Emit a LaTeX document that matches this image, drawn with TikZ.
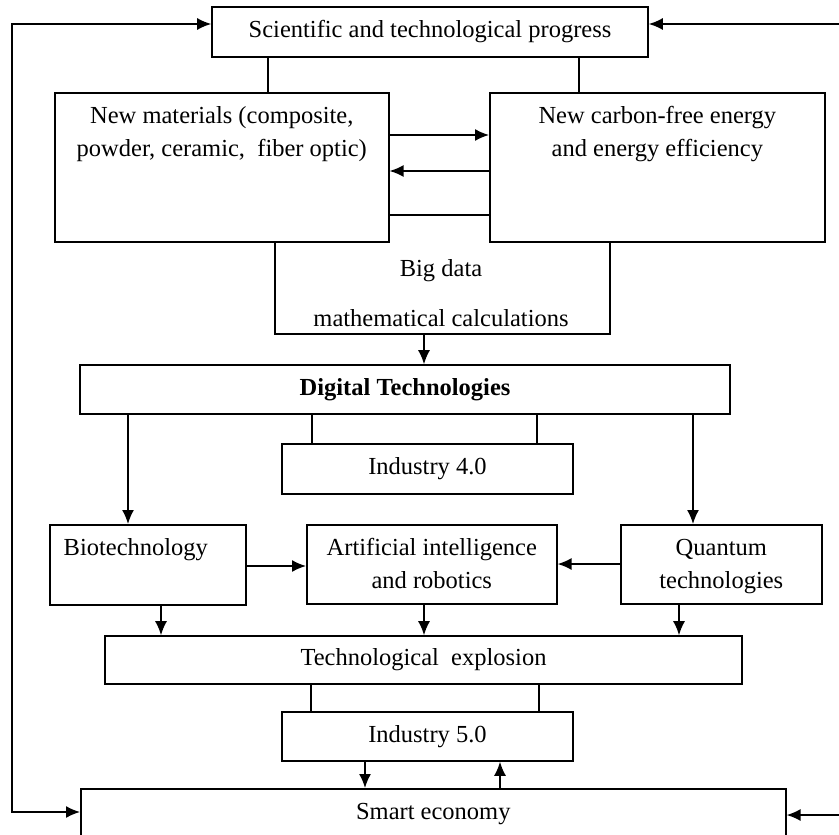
\documentclass[tikz,border=0pt]{standalone}
\usepackage{fontspec}
\setmainfont{Liberation Serif}
\usetikzlibrary{arrows.meta}

\newcommand{\boxtext}[3]{\parbox[c][#1][t]{#2}{\centering\rule{0pt}{15.5pt}#3\par}}

\tikzset{
  box/.style={draw, inner sep=0pt, font=\fontsize{12.25}{16.5}\selectfont},
  lbl/.style={inner sep=0pt, font=\fontsize{12.25}{16.5}\selectfont},
}

\begin{document}
\begin{tikzpicture}[x=0.5pt, y=-0.5pt, line width=0.8pt, >={Latex[length=7pt,width=6pt]}]
  \useasboundingbox (0,0) rectangle (839,834);

  \node[box, minimum width=218pt, minimum height=25pt] (sci) at (430,32) {Scientific and technological progress};
  \node[box, anchor=north west, minimum width=167pt, minimum height=74.5pt] (mat) at (54,92)
       {\boxtext{74.5pt}{160pt}{New materials (composite,\\ powder, ceramic, \ fiber optic)}};
  \node[box, anchor=north west, minimum width=167.5pt, minimum height=74.5pt] (ene) at (489,92)
       {\boxtext{74.5pt}{160pt}{New carbon-free energy\\ and energy efficiency}};
  \node[lbl] (bigdata) at (441,271) {Big data};
  \node[lbl] (calc)    at (441,318) {mathematical calculations};
  \node[box, minimum width=325pt, minimum height=24.5pt] (dig) at (405,389.5) {\textbf{Digital Technologies}};
  \node[box, minimum width=145.5pt, minimum height=25pt] (ind4) at (427.5,469) {Industry 4.0};
  \node[box, anchor=north west, minimum width=98pt, minimum height=40pt] (bio) at (49,524)
       {\boxtext{40pt}{94pt}{Biotechnology\hspace*{12pt}}};
  \node[box, anchor=north west, minimum width=125pt, minimum height=39.5pt] (ai) at (306,524)
       {\boxtext{39.5pt}{120pt}{Artificial intelligence\\ and robotics}};
  \node[box, anchor=north west, minimum width=100.5pt, minimum height=39.5pt] (qt) at (620,524)
       {\boxtext{39.5pt}{96pt}{Quantum\\ technologies}};
  \node[box, minimum width=318.5pt, minimum height=24pt] (tex) at (423.5,660) {Technological \ explosion};
  \node[box, minimum width=145.5pt, minimum height=24.5pt] (ind5) at (427.5,736.5) {Industry 5.0};
  \node[box, anchor=north west, minimum width=352.5pt, minimum height=35pt] (smart) at (80,788)
       {\boxtext{35pt}{200pt}{\vspace*{-1.5pt}Smart economy}};

  % top links
  \draw (sci.south -| 268,0) -- (mat.north -| 268,0);
  \draw (sci.south -| 579,0) -- (ene.north -| 579,0);
  % materials <-> energy
  \draw[->] (mat.east |- 0,135) -- (ene.west |- 0,135);
  \draw[->] (ene.west |- 0,171) -- (mat.east |- 0,171);
  \draw     (mat.east |- 0,215) -- (ene.west |- 0,215);
  % big data
  \coordinate (bd) at (424,334);
  \draw (mat.south -| 275,0) |- (bd) -| (ene.south -| 610,0);
  \draw[->] (bd) -- (dig.north -| bd);
  % digital technologies
  \draw (dig.south -| 312,0) -- (ind4.north -| 312,0);
  \draw (dig.south -| 537,0) -- (ind4.north -| 537,0);
  \draw[->] (dig.south -| 128,0) -- (bio.north -| 128,0);
  \draw[->] (dig.south -| 693,0) -- (qt.north -| 693,0);
  % third row
  \draw[->] (bio.east |- 0,566) -- (ai.west |- 0,566);
  \draw[->] (qt.west |- 0,564) -- (ai.east |- 0,564);
  \draw[->] (bio.south -| 161,0) -- (tex.north -| 161,0);
  \draw[->] (ai.south -| 424,0) -- (tex.north -| 424,0);
  \draw[->] (qt.south -| 679,0) -- (tex.north -| 679,0);
  % industry 5.0
  \draw (tex.south -| 311,0) -- (ind5.north -| 311,0);
  \draw (tex.south -| 539,0) -- (ind5.north -| 539,0);
  \draw[->] (ind5.south -| 365,0) -- (smart.north -| 365,0);
  \draw[->] (smart.north -| 500,0) -- (ind5.south -| 500,0);
  % feedback loops
  \draw[<->] ([yshift=4pt]sci.west) -- ++(-199,0) |- ([yshift=-12pt]smart.north west);
  \draw[<->] ([yshift=4pt]sci.east) -- ++(197,0) |- ([yshift=-13.5pt]smart.north east);
\end{tikzpicture}
\end{document}
